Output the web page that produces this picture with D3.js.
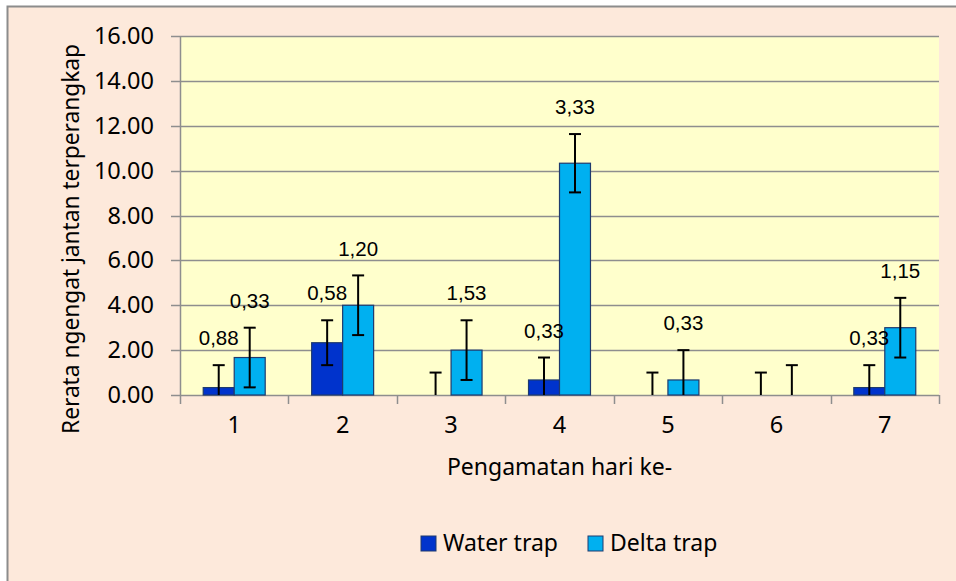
<!DOCTYPE html>
<html>
<head>
<meta charset="utf-8">
<script src="https://cdn.jsdelivr.net/npm/d3@7"></script>
<style>
  html, body { margin: 0; padding: 0; background: #fff; }
  svg { display: block; }
</style>
</head>
<body>
<svg id="chart" width="956" height="581"></svg>
<script>
// chart data
var days = ["1", "2", "3", "4", "5", "6", "7"];
var waterTrap = [0.33, 2.33, 0, 0.67, 0, 0, 0.33];
var waterErr = [1.0, 1.0, 1.0, 1.0, 1.0, 1.0, 1.0];
var deltaTrap = [1.67, 4.0, 2.0, 10.33, 0.67, 0, 3.0];
var deltaErr = [1.33, 1.33, 1.33, 1.3, 1.33, 1.33, 1.33];
var waterLabels = ["0,88", "0,58", "", "0,33", "", "", "0,33"];
var deltaLabels = ["0,33", "1,20", "1,53", "3,33", "0,33", "", "1,15"];
var yTicks = [0, 2, 4, 6, 8, 10, 12, 14, 16];
var seriesNames = ["Water trap", "Delta trap"];

var colors = { water: "#0033CC", delta: "#00B0F0", edge: "#1F3A6E" };
var font = "'Noto Sans', sans-serif";

var svg = d3.select("#chart");
var plot = { left: 180, right: 939, top: 36, bottom: 395 };

// outer chart box
svg.append("rect")
  .attr("x", 7.5).attr("y", 6.5)
  .attr("width", 980).attr("height", 600)
  .attr("fill", "#FDE9DB")
  .attr("stroke", "#8C8C8C")
  .attr("stroke-width", 2);

svg.append("rect")
  .attr("x", plot.left).attr("y", plot.top)
  .attr("width", plot.right - plot.left).attr("height", plot.bottom - plot.top)
  .attr("fill", "#FFFFCC");

var x = d3.scaleBand().domain(days).range([plot.left, plot.right]);
var y = d3.scaleLinear().domain([0, 16]).range([plot.bottom, plot.top]);

// bar width with 150% gap
var barW = x.bandwidth() / 3.5;

// gridlines
svg.append("g").selectAll("line")
  .data(yTicks)
  .enter().append("line")
  .attr("x1", plot.left - 9).attr("x2", plot.right)
  .attr("y1", function(d) { return Math.round(y(d)) + 0.5; })
  .attr("y2", function(d) { return Math.round(y(d)) + 0.5; })
  .attr("stroke", "#8E8E8E")
  .attr("stroke-width", 1.5);

// y axis
var yAxis = svg.append("g")
  .attr("transform", "translate(" + (plot.left - 9) + ",0)")
  .call(d3.axisLeft(y).tickValues(yTicks).tickSize(0).tickPadding(17)
    .tickFormat(function(d) { return d3.format(".2f")(d); }));
yAxis.select(".domain").remove();
yAxis.selectAll("text")
  .attr("font-family", font)
  .attr("font-size", 23.5)
  .attr("fill", "#000");

svg.append("line")
  .attr("x1", plot.left + 0.5).attr("x2", plot.left + 0.5)
  .attr("y1", plot.top).attr("y2", plot.bottom)
  .attr("stroke", "#8E8E8E").attr("stroke-width", 1.5);

// x axis
var xAxis = svg.append("g")
  .attr("transform", "translate(0," + plot.bottom + ")")
  .call(d3.axisBottom(x).tickSize(0).tickPadding(21));
xAxis.select(".domain").remove();
xAxis.selectAll("text")
  .attr("font-family", font)
  .attr("font-size", 23.5)
  .attr("fill", "#000");

// category boundary ticks
var bounds = days.map(function(d) { return x(d); }).concat([x.range()[1]]);
svg.append("g").selectAll("line")
  .data(bounds)
  .enter().append("line")
  .attr("x1", function(d) { return Math.round(d) + 0.5; })
  .attr("x2", function(d) { return Math.round(d) + 0.5; })
  .attr("y1", plot.bottom).attr("y2", plot.bottom + 9)
  .attr("stroke", "#8E8E8E").attr("stroke-width", 1.5);

var series = [
  { key: "water", values: waterTrap, err: waterErr, labels: waterLabels, off: -barW },
  { key: "delta", values: deltaTrap, err: deltaErr, labels: deltaLabels, off: 0 }
];

var labelRows = [];

series.forEach(function(s) {
  var g = svg.append("g");
  var rows = s.values.map(function(v, i) {
    return {
      day: days[i],
      value: v,
      err: s.err[i],
      label: s.labels[i],
      cx: x(days[i]) + x.bandwidth() / 2 + s.off + barW / 2
    };
  });

  g.selectAll("rect")
    .data(rows.filter(function(d) { return d.value > 0; }))
    .enter().append("rect")
    .attr("x", function(d) { return d.cx - barW / 2; })
    .attr("y", function(d) { return y(d.value); })
    .attr("width", barW)
    .attr("height", function(d) { return y(0) - y(d.value); })
    .attr("fill", colors[s.key])
    .attr("stroke", colors.edge)
    .attr("stroke-width", 1.2);

  // error bars
  rows.forEach(function(d) {
    var hi = y(d.value + d.err);
    var lo = y(Math.max(0, d.value - d.err));
    g.append("line")
      .attr("x1", d.cx).attr("x2", d.cx)
      .attr("y1", hi).attr("y2", lo)
      .attr("stroke", "#000").attr("stroke-width", 2);
    g.append("line")
      .attr("x1", d.cx - 6).attr("x2", d.cx + 6)
      .attr("y1", hi).attr("y2", hi)
      .attr("stroke", "#000").attr("stroke-width", 2);
    if (d.value - d.err > 0) {
      g.append("line")
        .attr("x1", d.cx - 6).attr("x2", d.cx + 6)
        .attr("y1", lo).attr("y2", lo)
        .attr("stroke", "#000").attr("stroke-width", 2);
    }
    if (d.label) { labelRows.push(d); }
  });
});

// data labels on top of everything
svg.append("g").selectAll("text")
  .data(labelRows)
  .enter().append("text")
  .attr("x", function(d) { return d.cx; })
  .attr("y", function(d) { return y(d.value + d.err) - 27; })
  .attr("dy", "0.35em")
  .attr("text-anchor", "middle")
  .attr("font-family", "'Liberation Sans', Arial, sans-serif")
  .attr("font-size", 20.5)
  .attr("fill", "#000")
  .text(function(d) { return d.label; });

// axis titles
svg.append("text")
  .attr("x", (plot.left + plot.right) / 2)
  .attr("y", 467)
  .attr("dy", "0.35em")
  .attr("text-anchor", "middle")
  .attr("font-family", font)
  .attr("font-size", 23)
  .text("Pengamatan hari ke-");

svg.append("text")
  .attr("transform", "translate(71,239) rotate(-90)")
  .attr("dy", "0.35em")
  .attr("text-anchor", "middle")
  .attr("font-family", font)
  .attr("font-size", 22.7)
  .text("Rerata ngengat jantan terperangkap");

// legend
var legend = svg.append("g").attr("transform", "translate(421,536)");
var legendX = [0, 167];
seriesNames.forEach(function(name, i) {
  var lg = legend.append("g").attr("transform", "translate(" + legendX[i] + ",0)");
  lg.append("rect")
    .attr("width", 15).attr("height", 15)
    .attr("fill", i === 0 ? colors.water : colors.delta)
    .attr("stroke", colors.edge)
    .attr("stroke-width", 1);
  lg.append("text")
    .attr("x", 22).attr("y", 7)
    .attr("dy", "0.35em")
    .attr("font-family", font)
    .attr("font-size", 23)
    .text(name);
});
</script>
</body>
</html>
